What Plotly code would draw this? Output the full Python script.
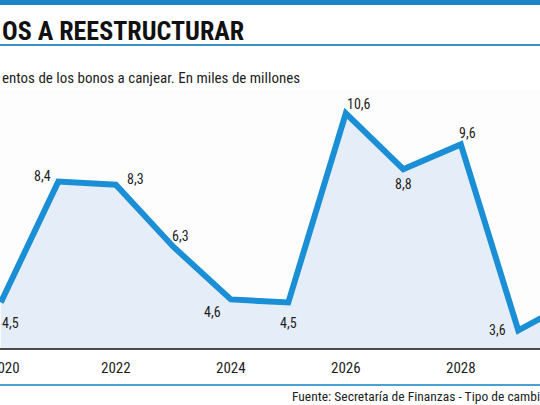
"""Bond maturities line chart (cropped newspaper style) using Plotly."""

import plotly.graph_objects as go

# Data
years = [2020, 2021, 2022, 2023, 2024, 2025, 2026, 2027, 2028, 2029, 2030]
values = [4.5, 8.4, 8.3, 6.3, 4.6, 4.5, 10.6, 8.8, 9.6, 3.6, 4.6]
tick_years = [2020, 2022, 2024, 2026, 2028]
tick_labels = ["2020", "2022", "2024", "2026", "2028"]

title_text = "OS A REESTRUCTURAR"
subtitle_text = "entos de los bonos a canjear. En miles de millones"
source_text = "Fuente: Secretaría de Finanzas - Tipo de cambio"

# Label offsets in pixels (dx, dy), one per labelled point
label_offsets = [(10, -20), (-16, 6), (20, 6), (7, 11), (-18, -13), (0, -20),
                 (13, 9), (0, -15), (7, 11), (-21, 0)]
tick_shifts = [4, 0, 0, 0, 0]

COLORS = {
    "line": "#1b8fd6",
    "fill": "#e5eef8",
    "bar": "#1a86c8",
    "rule": "#3a8fcc",
    "text": "#1e1e1e",
}
FONT = "Roboto Condensed, Liberation Sans Narrow, Roboto, sans-serif"

W, H = 540, 405
TOP, BOTTOM = 90, 349  # plot area in pixels


def py(y_px):
    """Convert a pixel row to paper y."""
    return (BOTTOM - y_px) / (BOTTOM - TOP)


def fmt(v):
    return f"{v:.1f}".replace(".", ",")


fig = go.Figure()

fig.add_trace(
    go.Scatter(
        x=years,
        y=values,
        mode="lines",
        line=dict(color=COLORS["line"], width=6),
        fill="tozeroy",
        fillcolor=COLORS["fill"],
        hoverinfo="skip",
        showlegend=False,
    )
)

annotations = []
for yr, v, (dx, dy) in zip(years, values, label_offsets):
    annotations.append(dict(
        x=yr, y=v, xref="x", yref="y", text=fmt(v), showarrow=False,
        xshift=dx, yshift=dy, font=dict(size=14, color=COLORS["text"], family=FONT),
    ))

# year labels under the axis (annotations so the cut-off first label does not push margins)
for yr, lab, dx in zip(tick_years, tick_labels, tick_shifts):
    annotations.append(dict(
        x=yr, y=py(368), xref="x", yref="paper", yanchor="middle", text=lab,
        xshift=dx, showarrow=False,
        font=dict(size=15, color=COLORS["text"], family=FONT),
    ))

annotations += [
    dict(x=0, y=py(31), xref="paper", yref="paper", xanchor="left", yanchor="middle",
         text=f"<b>{title_text}</b>", showarrow=False,
         font=dict(size=26, color="#111111", family=FONT)),
    dict(x=0, y=py(78), xref="paper", yref="paper", xanchor="left", yanchor="middle",
         text=subtitle_text, showarrow=False,
         font=dict(size=15, color=COLORS["text"], family=FONT)),
    dict(x=290 / W, y=py(396), xref="paper", yref="paper", xanchor="left", yanchor="middle",
         text=source_text, showarrow=False,
         font=dict(size=13.5, color=COLORS["text"], family=FONT)),
]

shapes = [
    dict(type="rect", xref="paper", yref="paper", x0=0, x1=1, y0=py(5), y1=py(0),
         fillcolor=COLORS["bar"], line_width=0, layer="above"),
    dict(type="line", xref="paper", yref="paper", x0=0, x1=1, y0=py(45), y1=py(45),
         line=dict(color=COLORS["rule"], width=2)),
    dict(type="line", xref="paper", yref="paper", x0=0, x1=1, y0=0, y1=0,
         line=dict(color="#111111", width=1.5), layer="above"),
    dict(type="line", xref="paper", yref="paper", x0=0, x1=1, y0=py(385), y1=py(385),
         line=dict(color="#4a9fd3", width=2)),
]

x0 = 2020 - 0.8 / 57.5
x1 = 2020 + (W - 0.8) / 57.5

fig.update_layout(
    width=W,
    height=H,
    margin=dict(l=0, r=0, t=TOP, b=H - BOTTOM, pad=0),
    paper_bgcolor="#ffffff",
    plot_bgcolor="#fdfdfd",
    annotations=annotations,
    shapes=shapes,
    font=dict(family=FONT, color=COLORS["text"]),
)

fig.update_xaxes(
    range=[x0, x1],
    showticklabels=False,
    showgrid=False,
    zeroline=False,
    showline=False,
)
fig.update_yaxes(
    range=[3.0, 3.0 + (BOTTOM - TOP) / 31.0],
    showticklabels=False,
    showgrid=False,
    zeroline=False,
    showline=False,
)

# drop the default page margin so the figure sits at the window's top-left
fig.write_html(
    "out.html",
    config={"displayModeBar": False},
    post_script="document.body.style.margin='0';",
)
